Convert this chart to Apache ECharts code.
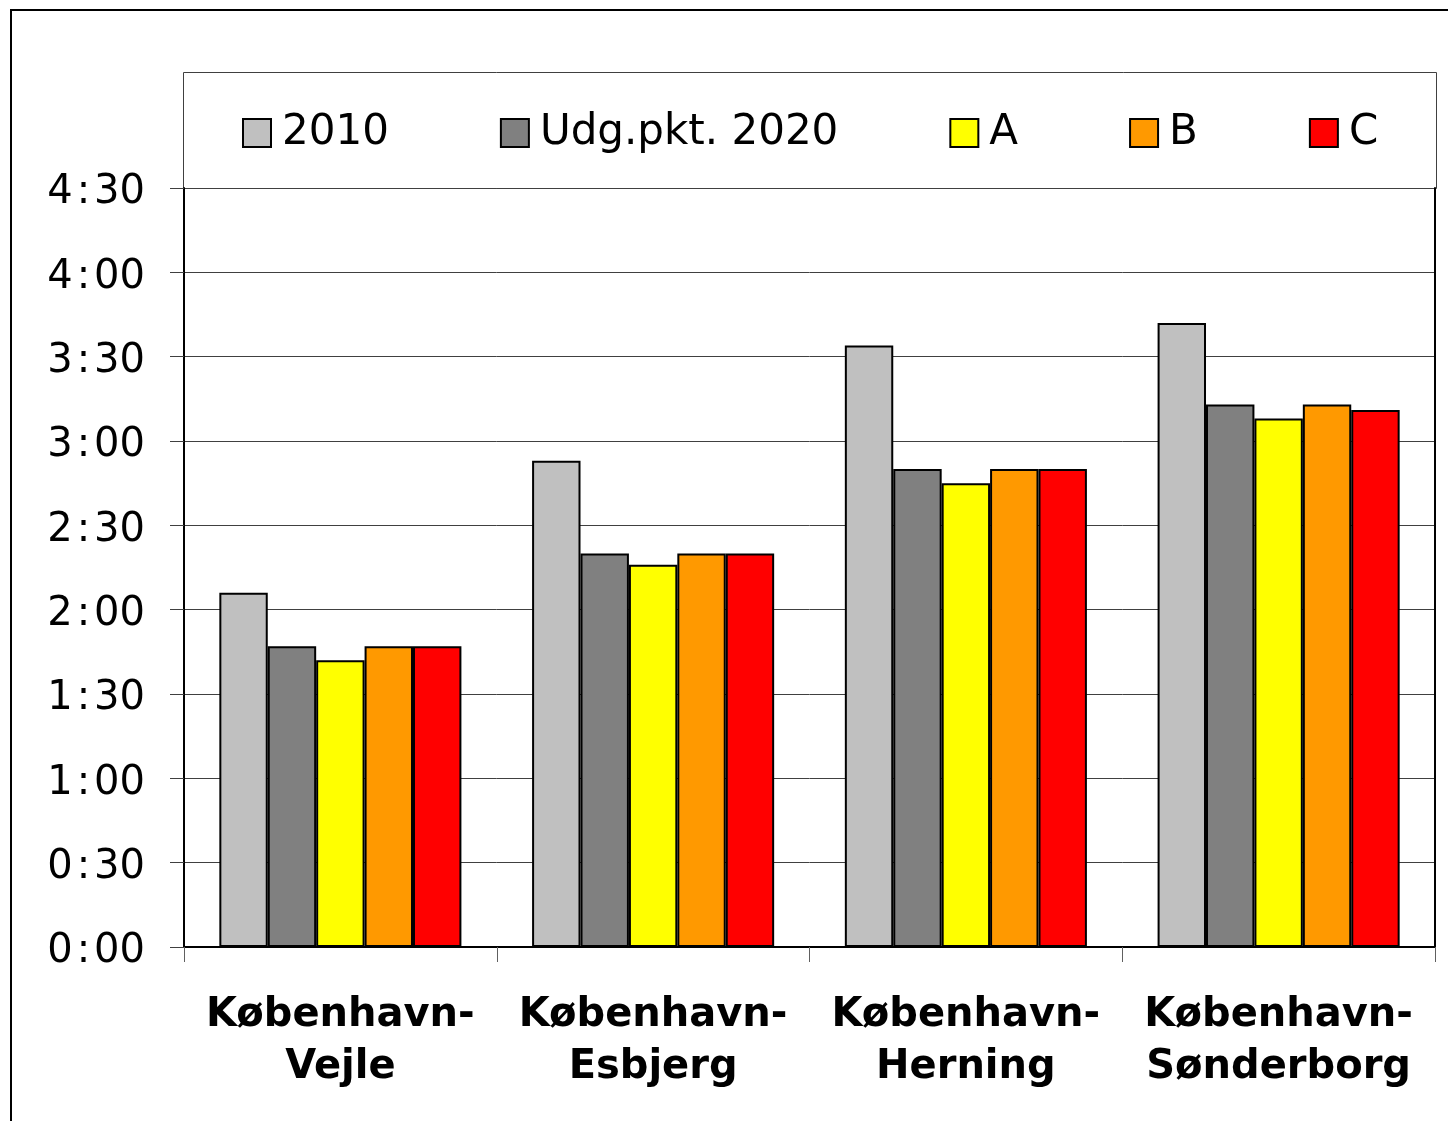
<!DOCTYPE html>
<html>
<head>
<meta charset="utf-8">
<script src="https://cdn.jsdelivr.net/npm/echarts@6/dist/echarts.min.js"></script>
<style>
html,body{margin:0;padding:0;background:#fff;}
#chart{width:1448px;height:1121px;}
</style>
</head>
<body>
<div id="chart"></div>
<script>
// Travel times in minutes
const categories = ['København-\nVejle', 'København-\nEsbjerg', 'København-\nHerning', 'København-\nSønderborg'];
const seriesNames = ['2010', 'Udg.pkt. 2020', 'A', 'B', 'C'];
const v2010 = [126, 173, 214, 222];
const vUdg2020 = [107, 140, 170, 193];
const vA = [102, 136, 165, 188];
const vB = [107, 140, 170, 193];
const vC = [107, 140, 170, 191];
const yTicks = [0, 30, 60, 90, 120, 150, 180, 210, 240, 270];

const colors = ['#C0C0C0', '#808080', '#FFFF00', '#FF9900', '#FF0000'];
const values = [v2010, vUdg2020, vA, vB, vC];

function fmt(v) {
  const h = Math.floor(v / 60), m = v % 60;
  return '{t|' + h + '\u200A:\u200A' + (m < 10 ? '0' + m : m) + '}';
}

const chart = echarts.init(document.getElementById('chart'), null, {renderer: 'canvas'});
const option = {
  backgroundColor: '#fff',
  animation: false,
  graphic: [
    {type: 'rect', shape: {x: 11, y: 10, width: 1460, height: 1140},
     style: {fill: 'none', stroke: '#000', lineWidth: 2}, z: 0},
    {type: 'rect', shape: {x: 183.5, y: 72.5, width: 1253, height: 116},
     style: {fill: '#fff', stroke: '#404040', lineWidth: 1}, z: 0}
  ],
  legend: {
    left: 242, top: 109, padding: 0,
    itemWidth: 28, itemHeight: 28, itemGap: 111,
    icon: 'rect',
    textStyle: {fontFamily: 'DejaVu Sans', fontSize: 42, color: '#000', lineHeight: 42, padding: [6, 0, 0, 6]},
    data: seriesNames
  },
  grid: {left: 184, right: 13, top: 188, bottom: 174, containLabel: false},
  xAxis: [{
    type: 'category', data: categories,
    axisLine: {show: true, lineStyle: {color: '#000', width: 2}},
    axisTick: {show: true, length: 15, lineStyle: {color: '#606060', width: 1}, alignWithLabel: false},
    axisLabel: {margin: 43, fontFamily: 'DejaVu Sans', fontSize: 40, fontWeight: 'bold', color: '#000', lineHeight: 52, interval: 0}
  }, {
    type: 'category', data: categories, position: 'top',
    axisLine: {show: true, lineStyle: {color: '#000', width: 2}},
    axisTick: {show: false}, axisLabel: {show: false}
  }],
  yAxis: [{
    type: 'value', min: 0, max: 270, interval: 30,
    axisLine: {show: true, lineStyle: {color: '#000', width: 2}},
    axisTick: {show: true, length: 14, lineStyle: {color: '#404040', width: 1}},
    axisLabel: {margin: 39, fontFamily: 'DejaVu Sans', fontSize: 40, color: '#000', formatter: fmt,
      rich: {t: {fontFamily: 'DejaVu Sans', fontSize: 40, color: '#000', padding: [10, 0, 0, 0]}}},
    splitLine: {show: true, lineStyle: {color: '#404040', width: 1}}
  }, {
    type: 'value', min: 0, max: 270, interval: 30, position: 'right',
    axisLine: {show: true, lineStyle: {color: '#000', width: 2}},
    axisTick: {show: false}, axisLabel: {show: false}, splitLine: {show: false}
  }],
  series: seriesNames.map((n, i) => ({
    name: n, type: 'bar', data: values[i],
    barGap: '0%', barCategoryGap: '22.6%',
    itemStyle: {color: colors[i], borderColor: '#000', borderWidth: 2}
  }))
};
chart.setOption(option);
</script>
</body>
</html>
